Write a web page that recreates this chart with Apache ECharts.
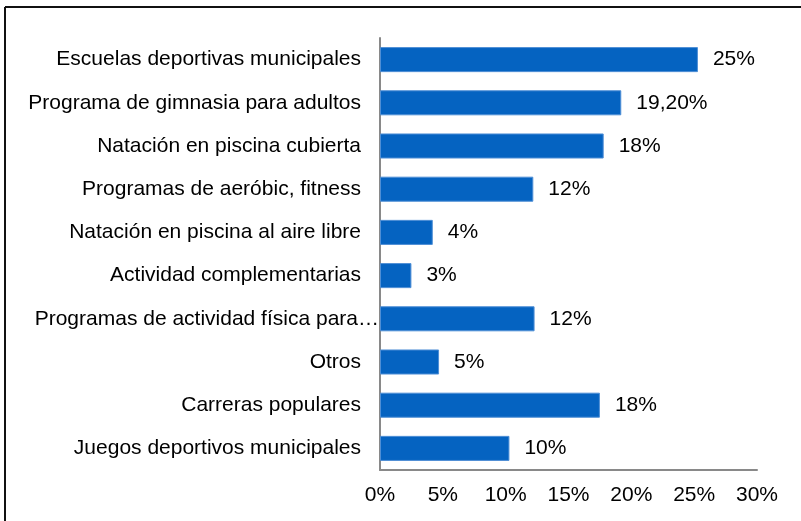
<!DOCTYPE html>
<html>
<head>
<meta charset="utf-8">
<script src="https://cdn.jsdelivr.net/npm/echarts@6/dist/echarts.min.js"></script>
<style>
html, body { margin: 0; padding: 0; background: #fff; }
#chart { width: 801px; height: 521px; }
</style>
</head>
<body>
<div id="chart"></div>
<script>
// datos
var categorias = [
	'Escuelas deportivas municipales',
	'Programa de gimnasia para adultos',
	'Natación en piscina cubierta',
	'Programas de aeróbic, fitness',
	'Natación en piscina al aire libre',
	'Actividad complementarias',
	'Programas de actividad física para…',
	'Otros',
	'Carreras populares',
	'Juegos deportivos municipales'
];
var valores = [25.3, 19.2, 17.8, 12.2, 4.2, 2.5, 12.3, 4.7, 17.5, 10.3];
var etiquetas = ['25%', '19,20%', '18%', '12%', '4%', '3%', '12%', '5%', '18%', '10%'];
var ticksX = [0, 5, 10, 15, 20, 25, 30];

var fuente = 'Liberation Sans, Arial, sans-serif';

// la etiqueta recortada llega hasta el eje
var datosY = categorias.map(function(c){
	if (c.indexOf('…') >= 0) {
		return { value: c, textStyle: { padding: [0, -18, 0, 0] } };
	}
	return c;
});

var option = {
	animation: false,
	textStyle: { fontFamily: fuente },
	grid: { left: 380, right: 44, top: 38, bottom: 51 },
	xAxis: {
		type: 'value',
		min: ticksX[0],
		max: ticksX[ticksX.length - 1],
		interval: 5,
		axisLine: { show: true, lineStyle: { color: '#898989', width: 2 } },
		axisTick: { show: false },
		splitLine: { show: false },
		axisLabel: {
			formatter: '{value}%',
			color: '#000',
			fontSize: 21,
			fontFamily: fuente,
			margin: 15
		}
	},
	yAxis: {
		type: 'category',
		inverse: true,
		data: datosY,
		axisLine: { show: true, lineStyle: { color: '#898989', width: 2 } },
		axisTick: { show: false },
		axisLabel: {
			color: '#000',
			fontSize: 21,
			fontFamily: fuente,
			margin: 19
		}
	},
	series: [{
		type: 'bar',
		data: valores,
		barCategoryGap: '42%',
		itemStyle: { color: '#0563c1', borderColor: '#4f8fd6', borderWidth: 1 },
		label: {
			show: true,
			position: 'right',
			distance: 15,
			color: '#000',
			fontSize: 21,
			fontFamily: fuente,
			formatter: function(p){ return etiquetas[p.dataIndex]; }
		}
	}],
	graphic: [
		{ type: 'line', shape: { x1: 5, y1: 7, x2: 801, y2: 7 }, style: { stroke: '#111', lineWidth: 2 } },
		{ type: 'line', shape: { x1: 5, y1: 7, x2: 5, y2: 521 }, style: { stroke: '#111', lineWidth: 2 } }
	]
};

var chart = echarts.init(document.getElementById('chart'));
chart.setOption(option);
</script>
</body>
</html>
